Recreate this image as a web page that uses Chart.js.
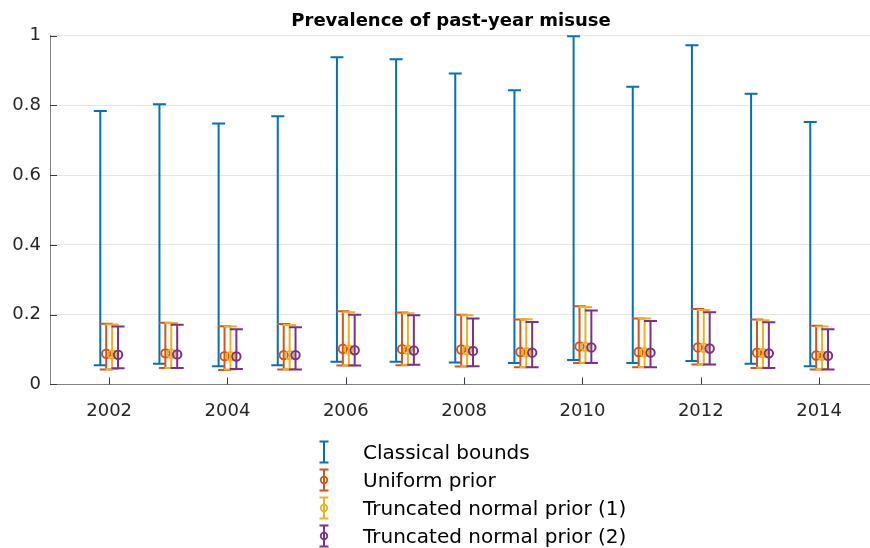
<!DOCTYPE html>
<html><head><meta charset="utf-8">
<script src="https://cdn.jsdelivr.net/npm/chart.js@4.4.1/dist/chart.umd.min.js"></script>
<style>
html,body{margin:0;padding:0;background:#fff;}
#wrap{position:relative;width:870px;height:548px;overflow:hidden;}
#legend{position:absolute;left:314px;top:438px;font-family:'DejaVu Sans';font-size:20px;color:#000;}
.row{display:flex;align-items:center;height:28px;white-space:nowrap;}
.row svg{width:20px;height:24px;margin-right:29px;flex:none;}
</style></head><body>
<div id="wrap"><canvas id="c" width="870" height="548"></canvas><div id="legend"></div></div>
<script>
const years = [2002, 2003, 2004, 2005, 2006, 2007, 2008, 2009, 2010, 2011, 2012, 2013, 2014];
const xTickValues = [2002, 2004, 2006, 2008, 2010, 2012, 2014];
const yTickValues = [0, 0.2, 0.4, 0.6, 0.8, 1];

const classicalLow  = [0.055, 0.059, 0.052, 0.055, 0.065, 0.065, 0.063, 0.061, 0.070, 0.061, 0.067, 0.059, 0.052];
const classicalHigh = [0.784, 0.803, 0.748, 0.769, 0.938, 0.932, 0.891, 0.843, 0.998, 0.853, 0.972, 0.833, 0.752];

const uniformEst  = [0.088, 0.089, 0.081, 0.084, 0.102, 0.101, 0.100, 0.093, 0.109, 0.093, 0.106, 0.091, 0.083];
const uniformLow  = [0.043, 0.047, 0.041, 0.043, 0.054, 0.055, 0.051, 0.049, 0.061, 0.049, 0.057, 0.047, 0.043];
const uniformHigh = [0.174, 0.177, 0.167, 0.173, 0.210, 0.206, 0.200, 0.186, 0.224, 0.189, 0.216, 0.186, 0.168];

const trunc1Est  = [0.086, 0.088, 0.081, 0.084, 0.100, 0.099, 0.098, 0.092, 0.108, 0.092, 0.105, 0.090, 0.082];
const trunc1Low  = [0.044, 0.047, 0.043, 0.044, 0.055, 0.056, 0.052, 0.050, 0.062, 0.050, 0.058, 0.048, 0.044];
const trunc1High = [0.172, 0.176, 0.166, 0.170, 0.207, 0.204, 0.198, 0.187, 0.222, 0.189, 0.213, 0.184, 0.166];

const trunc2Est  = [0.085, 0.086, 0.080, 0.084, 0.098, 0.097, 0.096, 0.091, 0.106, 0.091, 0.103, 0.089, 0.082];
const trunc2Low  = [0.046, 0.047, 0.044, 0.043, 0.054, 0.056, 0.052, 0.049, 0.061, 0.049, 0.057, 0.047, 0.043];
const trunc2High = [0.166, 0.171, 0.158, 0.164, 0.200, 0.198, 0.189, 0.179, 0.212, 0.182, 0.207, 0.178, 0.158];

const seriesLabels = ['Classical bounds', 'Uniform prior', 'Truncated normal prior (1)', 'Truncated normal prior (2)'];
const seriesColors = ['#0072BD', '#D95319', '#EDB120', '#7E2F8E'];
const seriesOffsets = [-0.15, -0.05, 0.05, 0.15];

function build(est, lo, hi, k) {
  return years.map((yr, i) => ({ x: yr + seriesOffsets[k], y: est ? est[i] : hi[i], lo: lo[i], hi: hi[i] }));
}

const datasets = [
  { label: seriesLabels[0], data: build(null, classicalLow, classicalHigh, 0), marker: false },
  { label: seriesLabels[1], data: build(uniformEst, uniformLow, uniformHigh, 1), marker: true },
  { label: seriesLabels[2], data: build(trunc1Est, trunc1Low, trunc1High, 2), marker: true },
  { label: seriesLabels[3], data: build(trunc2Est, trunc2Low, trunc2High, 3), marker: true }
].map((d, k) => Object.assign(d, {
  borderColor: seriesColors[k],
  backgroundColor: 'rgba(0,0,0,0)',
  pointRadius: d.marker ? 4.2 : 0,
  pointHoverRadius: d.marker ? 4.2 : 0,
  pointBorderWidth: 2,
  pointStyle: 'circle',
  showLine: false,
  order: 4 - k
}));

const errorBars = {
  id: 'errorBars',
  beforeDatasetDraw(chart, args) {
    const ds = chart.data.datasets[args.index];
    const xs = chart.scales.x, ys = chart.scales.y, ctx = chart.ctx;
    ctx.save();
    ctx.strokeStyle = ds.borderColor;
    ctx.lineWidth = 2;
    ctx.lineCap = 'butt';
    ds.data.forEach(p => {
      const x = xs.getPixelForValue(p.x);
      const a = ys.getPixelForValue(p.lo), b = ys.getPixelForValue(p.hi);
      ctx.beginPath();
      ctx.moveTo(x, a); ctx.lineTo(x, b);
      ctx.moveTo(x - 6.5, a); ctx.lineTo(x + 6.5, a);
      ctx.moveTo(x - 6.5, b); ctx.lineTo(x + 6.5, b);
      ctx.stroke();
    });
    ctx.restore();
  }
};

const innerTicks = {
  id: 'innerTicks',
  afterDatasetsDraw(chart) {
    const {ctx, chartArea, scales} = chart;
    ctx.save();
    ctx.strokeStyle = '#3a3a3a';
    ctx.lineWidth = 1;
    ctx.beginPath();
    scales.x.ticks.forEach(t => {
      const px = Math.round(scales.x.getPixelForValue(t.value)) + 0.5;
      ctx.moveTo(px, chartArea.bottom); ctx.lineTo(px, chartArea.bottom - 7);
    });
    scales.y.ticks.forEach(t => {
      const py = Math.round(scales.y.getPixelForValue(t.value)) + 0.5;
      ctx.moveTo(chartArea.left, py); ctx.lineTo(chartArea.left + 7, py);
    });
    ctx.stroke();
    ctx.restore();
  }
};

const titleShift = {
  id: 'titleShift',
  afterLayout(chart) {
    const t = chart.titleBlock;
    if (t) { t.left = 32; t.right = chart.width; t.width = t.right - t.left; }
  }
};

const htmlLegend = {
  id: 'htmlLegend',
  afterInit(chart) {
    const box = document.getElementById('legend');
    box.innerHTML = '';
    chart.data.datasets.forEach(ds => {
      const row = document.createElement('div');
      row.className = 'row';
      const c = ds.borderColor;
      let svg = '<svg viewBox="0 0 20 24" xmlns="http://www.w3.org/2000/svg">' +
        '<path d="M10 1.5V22.5M5.5 1.5H14.5M5.5 22.5H14.5" stroke="' + c + '" stroke-width="2" fill="none"/>';
      if (ds.marker) svg += '<circle cx="10" cy="12" r="3.3" stroke="' + c + '" stroke-width="1.8" fill="none"/>';
      svg += '</svg>';
      row.innerHTML = svg;
      const span = document.createElement('span');
      span.textContent = ds.label;
      row.appendChild(span);
      box.appendChild(row);
    });
  }
};

Chart.defaults.font.family = "'DejaVu Sans'";
Chart.defaults.color = '#262626';

new Chart(document.getElementById('c'), {
  type: 'scatter',
  data: { datasets },
  plugins: [errorBars, innerTicks, titleShift, htmlLegend],
  options: {
    responsive: false,
    animation: false,
    events: [],
    layout: { autoPadding: false, padding: { left: 0, right: 0, top: 0, bottom: 110 } },
    plugins: {
      legend: { display: false },
      tooltip: { enabled: false },
      title: {
        display: true,
        text: 'Prevalence of past-year misuse',
        color: '#000',
        font: { size: 18, weight: 'bold', family: "'DejaVu Sans'" },
        padding: { top: 11, bottom: 3 }
      }
    },
    scales: {
      x: {
        type: 'linear',
        min: 2001,
        max: 2014.86,
        afterBuildTicks(scale) { scale.ticks = xTickValues.map(v => ({ value: v })); },
        afterFit(scale) { scale.paddingLeft = 0; scale.paddingRight = 0; },
        ticks: { font: { size: 18 }, color: '#262626', padding: 16, maxRotation: 0, callback: v => String(v) },
        grid: { color: 'rgba(0,0,0,0)', drawTicks: false },
        border: { display: true, color: '#808080', width: 1 }
      },
      y: {
        type: 'linear',
        min: 0,
        max: 1,
        afterBuildTicks(scale) { scale.ticks = yTickValues.map(v => ({ value: v })); },
        afterFit(scale) { scale.width = 50; },
        ticks: { font: { size: 18 }, color: '#262626', padding: 9, callback: v => String(v) },
        grid: { color: '#e6e6e6', drawTicks: false },
        border: { display: true, color: '#808080', width: 1 }
      }
    }
  }
});
</script>
</body></html>
